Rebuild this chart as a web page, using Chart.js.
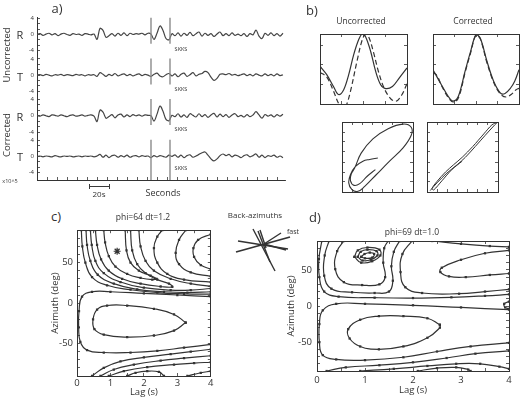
<!DOCTYPE html>
<html>
<head>
<meta charset="utf-8">
<script src="https://cdn.jsdelivr.net/npm/chart.js@4.4.0/dist/chart.umd.min.js"></script>
<style>
    html, body { margin: 0; padding: 0; background: #fff; }
    #figure { position: relative; width: 520px; height: 398px; overflow: hidden; font-family: "Open Sans", sans-serif; color: #333; }
    #figure canvas { position: absolute; }
    .lbl { position: absolute; white-space: nowrap; line-height: 1; transform: translate(-50%, -50%); }
    .rot { transform: translate(-50%, -50%) rotate(-90deg); }
    .bar { position: absolute; background: #3a3a3a; }
</style>
</head>
<body>
<div id="figure"></div>
<script>
(function () {
    // ---- a) seismograms, sampled every 3 s ----
    const traceTimes = [0, 3, 6, 9, 12, 15, 18, 21, 24, 27, 30, 33, 36, 39, 42, 45, 48, 51, 54, 57,
        60, 63, 66, 69, 72, 75, 78, 81, 84, 87, 90, 93, 96, 99, 102, 105, 108, 111, 114, 117,
        120, 123, 126, 129, 132, 135, 138, 141, 144, 147, 150, 153, 156, 159, 162, 165, 168, 171, 174, 177,
        180, 183, 186, 189, 192, 195, 198, 201, 204, 207, 210, 213, 216, 219, 222, 225, 228, 231, 234, 237,
        240, 243, 246];
    const rUncorrected = [0, 0.2, -0.2, 0.1, 0.3, -0.1, 0.2, -0.3, 0.1, 0.3, 0, -0.2, 0.2, 0, 0.1, -0.2, 0.2, 0.1, -0.1, 0.1,
        -1.2, 1.5, 1.0, -0.7, -0.3, 0.2, -0.4, 0.3, -0.2, 0.4, -0.3, 0.3, 0, 0.2, 0.1, 0.3, -0.1, 0.3, 0.1, -1.2,
        0.3, 2.1, 1.0, -1.0, -1.3, 0.2, -0.3, 0.4, -0.4, 0.3, -0.2, 0.5, -0.3, 0.2, 0.6, -0.4, 0.3, -0.2, 0.2, -0.5,
        0.1, 0.6, -0.3, 0.2, -0.3, 0.4, -0.2, 0.1, -0.3, 0.2, -0.5, 0.2, -0.1, 1.1, -0.4, -1.0, 0.3, -0.2, 0.4, -0.3,
        0.2, -0.4, 0.3];
    const tUncorrected = [0, 0.1, -0.1, 0.2, 0, -0.2, 0.1, 0, 0.2, -0.1, 0.1, 0, -0.1, 0.2, 0, 0.1, -0.2, 0.1, 0, 0.1,
        -0.3, 0.6, 0.2, -0.3, 0.2, -0.1, 0.4, -0.2, 0.1, 0.3, -0.1, 0.2, -0.2, 0.1, 0.3, -0.1, 0.2, 0, -0.3, 0.2,
        0.5, -0.2, -0.4, 0.1, 0.4, -0.2, 0.3, -0.4, 0.2, 0.5, -0.3, 0.1, 0.6, -0.2, 0.2, 0.4, 0.9, 0.6, -0.5, -1.3,
        -0.8, 0.2, 0.3, 0.1, 0.4, 0, 0.2, -0.1, 0.1, 0.3, -0.1, 0.2, -0.2, 0.3, 0, -0.2, 0.3, -0.1, 0.2, -0.2,
        0.3, -0.1, 0.1];
    const rCorrected = [0.1, -0.1, 0.2, 0, -0.2, 0.2, 0.1, -0.1, 0.2, 0, -0.2, 0.1, 0.2, -0.1, 0, 0.2, -0.1, 0.1, 0.2, -0.1,
        -1.4, 1.4, 0.9, -0.6, -0.2, 0.3, -0.5, 0.2, 0.4, -0.3, 0.2, -0.2, 0.3, 0, 0.2, -0.1, 0.2, 0.1, 0, -1.3,
        0.4, 2.4, 1.1, -0.9, -1.2, 0.1, -0.2, 0.5, -0.3, 0.2, -0.4, 0.5, 0.1, -0.3, 0.5, -0.2, 0.3, -0.4, 0.2, 0.6,
        -0.3, 0.4, -0.2, 0.3, -0.4, 0.2, 0.5, -0.2, 0.1, -0.3, 0.3, -0.2, 0.2, 1.0, 0.2, -0.6, 0.3, -0.1, 0.2, -0.3,
        0.3, -0.1, 0.4];
    const tCorrected = [0, 0.1, -0.1, 0.1, 0, -0.1, 0.2, 0, -0.1, 0.1, 0, 0.1, -0.1, 0, 0.1, -0.1, 0.1, 0, 0.1, -0.1,
        0.1, 0.5, -0.2, 0.3, -0.3, 0.2, 0.3, -0.2, 0.2, -0.1, 0.3, -0.2, 0.1, 0.2, -0.1, 0.2, 0, 0.1, -0.3, 0.2,
        -0.1, 0.2, 0, -0.2, 0.3, 0, 0.4, -0.2, 0.3, -0.3, 0.2, 0.4, -0.2, 0.1, 0.5, 0.9, 1.1, 0.3, -0.6, -1.1,
        -0.6, 0.2, 0.6, 0.2, 0.5, -0.1, 0.3, 0.1, -0.3, 0.2, 0.4, -0.1, 0.2, 0.6, -0.2, 0.3, -0.3, 0.2, 0, 0.3,
        -0.2, 0.1, -0.3];
    const skksWindow = [114, 133];
    const rowOffsets = [0, -10, -20, -30];

    // ---- b) waveforms and particle motion ----
    const uncorrectedFast = [[0, 0.08], [0.31, -0.16], [0.62, -0.5], [0.85, -0.73], [1.09, -0.59], [1.32, -0.16], [1.55, 0.41],
        [1.78, 0.84], [1.94, 1.0], [2.09, 0.93], [2.33, 0.5], [2.56, -0.07], [2.79, -0.45], [3.02, -0.56], [3.33, -0.5], [3.64, -0.26], [4.0, 0.03]];
    const uncorrectedSlow = [[0, -0.1], [0.3, -0.22], [0.6, -0.6], [0.85, -0.98], [1.05, -1.15], [1.2, -1.05], [1.4, -0.64],
        [1.7, 0.22], [1.95, 0.85], [2.1, 0.99], [2.25, 0.9], [2.45, 0.5], [2.7, -0.1], [2.95, -0.55], [3.25, -0.85], [3.5, -0.92], [3.75, -0.75], [4.0, -0.42]];
    const correctedFast = [[0, -0.02], [0.39, -0.45], [0.75, -0.82], [0.94, -0.92], [1.18, -0.78], [1.49, -0.07], [1.73, 0.46],
        [2.0, 0.98], [2.2, 0.88], [2.51, 0.22], [2.82, -0.35], [3.14, -0.69], [3.35, -0.7], [3.6, -0.55], [3.8, -0.35], [4, -0.02]];
    const correctedSlow = [[0, -0.1], [0.2, -0.2], [0.39, -0.47], [0.75, -0.85], [0.98, -0.95], [1.2, -0.8], [1.5, -0.08],
        [1.75, 0.46], [2.0, 0.97], [2.2, 0.86], [2.5, 0.2], [2.82, -0.38], [3.14, -0.72], [3.4, -0.8], [3.65, -0.72], [3.85, -0.6], [4, -0.55]];
    const motionUncorrected = [[-0.06, -0.36], [-0.29, -0.55], [-0.5, -0.76], [-0.66, -0.81], [-0.76, -0.68], [-0.74, -0.49],
        [-0.64, -0.31], [-0.46, 0.11], [-0.13, 0.52], [0.3, 0.81], [0.72, 0.94], [0.95, 0.85], [0.95, 0.62], [0.72, 0.26],
        [0.34, -0.12], [-0.03, -0.5], [-0.36, -0.84], [-0.55, -0.98], [-0.72, -0.93], [-0.81, -0.74], [-0.76, -0.5],
        [-0.62, -0.27], [-0.41, -0.12], [-0.22, -0.07], [0.01, -0.03]];
    const motionCorrected = [[-0.91, -0.96], [-0.72, -0.74], [-0.44, -0.46], [-0.15, -0.22], [0.08, -0.01], [0.36, 0.3],
        [0.64, 0.62], [0.91, 0.92], [0.97, 0.98], [0.83, 0.92], [0.6, 0.66], [0.29, 0.3], [-0.01, -0.01], [-0.25, -0.22],
        [-0.48, -0.43], [-0.72, -0.7], [-0.86, -0.9], [-0.81, -0.94], [-0.58, -0.68], [-0.3, -0.36], [-0.01, -0.12]];

    // ---- back-azimuths (offsets from centre, y up) ----
    const backAzimuths = [
        [[-11, 15], [11, -27]],
        [[-26, 3], [24, -5]],
        [[-4, 14], [2, -4]],
        [[0, 0], [17, 11]],
        [[0, 0], [22, -6]],
        [[-6, 13], [6, -18]]
    ];
    const fastDirection = [[-28, -8], [26, 7]];

    // ---- c) energy contours, phi=64 dt=1.2 (lag s, azimuth deg) ----
    const cMinimum = [[1.2, 64]];
    const cTongueInner = [[0.8, 90], [0.84, 75], [0.95, 58], [1.15, 45], [1.5, 36], [1.9, 31], [2.25, 29], [2.38, 30], [2.2, 34], [1.85, 40], [1.6, 50], [1.48, 65], [1.44, 90]];
    const cTongueOuter = [[0.55, 90], [0.6, 72], [0.72, 54], [0.95, 40], [1.35, 30], [1.9, 24], [2.5, 20.5], [2.85, 20], [2.75, 24], [2.4, 29], [2.05, 37], [1.8, 48], [1.65, 65], [1.6, 90]];
    const cBandTop1 = [[0.4, 90], [0.44, 72], [0.55, 52], [0.8, 37], [1.3, 26], [2, 19], [2.8, 16], [3.4, 16], [4, 18]];
    const cBandTop2 = [[0.27, 90], [0.3, 72], [0.4, 52], [0.62, 35], [1.1, 24], [1.8, 17], [2.6, 14], [3.3, 13], [4, 14]];
    const cBandTop3 = [[0.13, 90], [0.16, 70], [0.25, 50], [0.45, 32], [0.9, 22], [1.6, 16.5], [2.4, 13], [3.2, 11.5], [4, 11]];
    const cSaddle = [[1.85, 90], [1.9, 70], [2.05, 52], [2.3, 40], [2.8, 30], [3.4, 24], [4, 21]];
    const cRightInner = [[4, 42], [3.7, 47], [3.5, 57], [3.48, 68], [3.62, 78], [4, 85]];
    const cRightMid = [[4, 33], [3.4, 38], [3.05, 48], [2.95, 62], [3.05, 78], [3.25, 90]];
    const cRightOuter = [[4, 26], [3.2, 29], [2.7, 36], [2.4, 50], [2.3, 68], [2.4, 82], [2.55, 90]];
    const cMidOuter = [[4, 8], [3, 10], [2, 12], [1, 14], [0.45, 14], [0.15, 8], [0.06, -10], [0.05, -30], [0.1, -48], [0.3, -58], [0.8, -61], [1.6, -61], [2.4, -59], [3.2, -55], [4, -51]];
    const cMidInner = [[3.25, -24], [2.9, -14], [2.3, -7], [1.5, -3], [0.9, -3], [0.6, -8], [0.48, -20], [0.52, -32], [0.8, -39], [1.5, -42], [2.3, -40], [2.9, -34], [3.25, -24]];
    const cBottom1 = [[0.45, -90], [0.8, -80], [1.3, -72], [2, -67], [2.8, -63], [3.4, -60], [4, -57]];
    const cBottom2 = [[0.7, -90], [1.1, -82], [1.7, -76], [2.5, -71], [3.2, -68], [4, -65]];
    const cBottom3 = [[0.95, -90], [1.4, -84], [2.1, -79], [2.9, -76], [3.5, -74], [4, -73]];
    const cBottomTongue = [[1.5, -90], [1.75, -86], [2.1, -84], [2.45, -85], [2.6, -90]];
    const cBottomRight = [[3.3, -90], [3.7, -86], [4, -84]];

    // ---- d) energy contours, phi=69 dt=1.0 ----
    const dLoop1 = [[0.78, 68], [0.85, 77], [1.05, 81], [1.3, 78], [1.32, 70], [1.15, 62], [0.92, 60], [0.78, 68]];
    const dLoop2 = [[0.85, 68], [0.91, 75], [1.05, 78], [1.24, 76], [1.26, 70], [1.12, 64], [0.95, 63], [0.85, 68]];
    const dLoop3 = [[0.92, 68], [0.99, 72], [1.1, 74], [1.19, 72], [1.15, 67], [1.0, 66], [0.92, 68]];
    const dUpperInner = [[0.56, 90], [0.42, 76], [0.38, 51], [0.56, 33], [0.94, 29], [1.3, 30], [1.42, 40], [1.38, 60], [1.4, 80], [1.48, 90]];
    const dUpperMid = [[0.25, 90], [0.16, 70], [0.15, 42], [0.3, 24], [0.73, 19], [1.2, 18], [1.5, 20], [1.58, 35], [1.55, 55], [1.6, 75], [1.72, 90]];
    const dUpperOuter = [[0.1, 90], [0.04, 65], [0.05, 40], [0.15, 20], [0.45, 13], [1.2, 11.5], [2, 11], [2.8, 12], [3.5, 14], [4, 16]];
    const dSaddle = [[1.98, 90], [1.78, 72], [1.74, 47], [1.84, 26], [2.19, 18], [2.96, 17], [3.5, 20], [4, 23]];
    const dTongue = [[4, 77], [3.5, 73], [3, 64], [2.6, 53], [2.57, 47], [2.75, 41], [3.1, 40], [3.6, 43], [4, 45]];
    const dTopRight = [[2.4, 90], [3, 86], [3.6, 83], [4, 82]];
    const dEdgeLoop = [[4, 6], [3.9, 3], [3.92, -2], [4, -4]];
    const dLowerOuter = [[4, -5], [3, -2], [2, 1], [1, 3], [0.4, 3], [0.12, -6], [0.05, -25], [0.05, -50], [0.12, -68], [0.4, -74], [1, -75], [1.8, -71], [2.5, -63], [3.2, -56], [4, -51]];
    const dLowerInner = [[2.56, -26], [2.3, -17], [1.8, -14], [1.29, -14], [0.9, -19], [0.65, -32], [0.68, -45], [0.9, -56], [1.29, -60], [1.8, -56], [2.3, -44], [2.56, -30], [2.56, -26]];
    const dBottom1 = [[0.2, -90], [0.6, -85], [1.3, -82], [2, -78], [2.7, -72], [3.3, -66], [4, -62]];
    const dBottom2 = [[0.9, -90], [1.6, -87], [2.3, -83], [2.9, -80], [3.4, -80], [3.8, -84], [4, -87]];
    const dBottomTongue = [[2.1, -90], [2.5, -86], [2.9, -85], [3.15, -88], [3.2, -90]];

    // ---- tick positions ----
    const lagTicks = [0, 0.5, 1, 1.5, 2, 2.5, 3, 3.5, 4];
    const azimuthTicks = [-90, -80, -70, -60, -50, -40, -30, -20, -10, 0, 10, 20, 30, 40, 50, 60, 70, 80, 90];
    const waveTicksX = [0, 1, 2, 3, 4];
    const waveTicksY = [-1, -0.44, 0.12, 0.68];
    const motionTicks = [-1, -0.714, -0.429, -0.143, 0.143, 0.429, 0.714, 1];

    const ink = "#333";
    Chart.defaults.font.family = "'Open Sans', sans-serif";
    Chart.defaults.color = ink;

    const fig = document.getElementById("figure");

    function addCanvas(left, top, width, height) {
        const c = document.createElement("canvas");
        c.width = width;
        c.height = height;
        c.style.left = left + "px";
        c.style.top = top + "px";
        c.style.width = width + "px";
        c.style.height = height + "px";
        fig.appendChild(c);
        return c;
    }

    function addText(text, x, y, size, rotated) {
        const el = document.createElement("div");
        el.className = rotated ? "lbl rot" : "lbl";
        el.textContent = text;
        el.style.left = x + "px";
        el.style.top = y + "px";
        el.style.fontSize = size + "px";
        fig.appendChild(el);
    }

    function frameAxis(o) {
        const vertical = o.position === "left" || o.position === "right";
        const cfg = {
            type: "linear",
            axis: vertical ? "y" : "x",
            position: o.position,
            min: o.min,
            max: o.max,
            afterBuildTicks: function (s) {
                s.ticks = o.ticks.map((v) => ({ value: v }));
            },
            afterFit: function (s) {
                if (vertical) {
                    s.width = o.size || 0;
                    s.paddingTop = 0;
                    s.paddingBottom = 0;
                } else {
                    s.height = o.size || 0;
                    s.paddingLeft = 0;
                    s.paddingRight = 0;
                }
            },
            border: { display: true, color: ink, width: 1 },
            grid: { drawOnChartArea: false, drawTicks: true, tickLength: -3, color: ink, lineWidth: 0.8 },
            ticks: {
                display: !!o.labels,
                autoSkip: false,
                maxRotation: 0,
                minRotation: 0,
                padding: o.padding || 6,
                color: ink,
                font: { size: o.fontSize || 9.5 },
            },
            title: { display: !!o.title, text: o.title || "", color: ink, padding: 0, font: { size: 9.5 } },
        };
        if (o.labels) {
            cfg.ticks.callback = o.labels;
        }
        return cfg;
    }

    function lineSet(points, opts) {
        return Object.assign(
            {
                data: points.map((p) => ({ x: p[0], y: p[1] })),
                showLine: true,
                borderColor: ink,
                borderWidth: 1.1,
                pointRadius: 0,
                tension: 0.35,
                fill: false,
            },
            opts || {}
        );
    }

    function contour(points) {
        return lineSet(points, {
            tension: 0.45,
            borderWidth: 1.2,
            pointRadius: 1.6,
            pointStyle: "rect",
            pointBackgroundColor: ink,
            pointBorderWidth: 0,
        });
    }

    function makeChart(box, scales, datasets, padding) {
        const canvas = addCanvas(box[0], box[1], box[2], box[3]);
        return new Chart(canvas.getContext("2d"), {
            type: "scatter",
            data: { datasets: datasets },
            options: {
                responsive: false,
                animation: false,
                devicePixelRatio: 1,
                layout: { padding: padding || 0 },
                plugins: { legend: { display: false }, tooltip: { enabled: false }, title: { display: false } },
                scales: scales,
            },
        });
    }

    function boxScales(xMin, xMax, xTicks, yMin, yMax, yTicks) {
        return {
            x: frameAxis({ position: "bottom", min: xMin, max: xMax, ticks: xTicks }),
            y: frameAxis({ position: "left", min: yMin, max: yMax, ticks: yTicks }),
            xTop: frameAxis({ position: "top", min: xMin, max: xMax, ticks: xTicks }),
            yRight: frameAxis({ position: "right", min: yMin, max: yMax, ticks: yTicks }),
        };
    }

    // ---------- panel a ----------
    const timeTicks = [];
    for (let t = 0; t <= 240; t += 10) {
        timeTicks.push(t);
    }
    const ampTicks = [];
    const ampLabels = {};
    rowOffsets.forEach((o) => {
        [-3, -2, -1, 0, 1, 2, 3].forEach((k) => ampTicks.push(o + (k * 4) / 3));
        ampLabels[Math.round((o + 4) * 100)] = "4";
        ampLabels[Math.round(o * 100)] = "0";
        ampLabels[Math.round((o - 4) * 100)] = "-4";
    });
    ampTicks.sort((a, b) => a - b);

    const traceDatasets = [];
    [rUncorrected, tUncorrected, rCorrected, tCorrected].forEach((values, i) => {
        const o = rowOffsets[i];
        skksWindow.forEach((w) => {
            const bottom = i === rowOffsets.length - 1 ? -35.8 : o - 2.3;
            traceDatasets.push(lineSet([[w, o + 4.1], [w, bottom]], { borderColor: "#8c8c8c", borderWidth: 1.4, tension: 0 }));
        });
        traceDatasets.push(lineSet(traceTimes.map((t, j) => [t, values[j] + o]), { borderColor: "#444", borderWidth: 1.2, tension: 0.35 }));
    });

    makeChart(
        [0, 10, 290, 180],
        {
            x: frameAxis({ position: "bottom", min: 0, max: 248, ticks: timeTicks, size: 10 }),
            y: frameAxis({
                position: "left",
                min: -35.8,
                max: 4.3,
                ticks: ampTicks,
                size: 37,
                fontSize: 6,
                padding: 6,
                labels: (v) => ampLabels[Math.round(v * 100)] || "",
            }),
        },
        traceDatasets,
        { top: 7, right: 5, left: 0, bottom: 0 }
    );

    // ---------- panel b ----------
    makeChart([319, 33, 89, 72], boxScales(0, 4, waveTicksX, -1, 1, waveTicksY), [
        lineSet(uncorrectedFast, { borderWidth: 1.2 }),
        lineSet(uncorrectedSlow, { borderWidth: 1.2, borderDash: [5, 3] }),
    ], 1);
    makeChart([432, 33, 88, 72], boxScales(0, 4, waveTicksX, -1, 1, waveTicksY), [
        lineSet(correctedFast, { borderWidth: 1.2 }),
        lineSet(correctedSlow, { borderWidth: 1.2, borderDash: [5, 3] }),
    ], 1);
    makeChart([341, 121, 73, 72], boxScales(-1, 1, motionTicks, -1, 1, motionTicks), [
        lineSet(motionUncorrected, { borderWidth: 1.1, tension: 0.4 }),
    ], 1);
    makeChart([426, 121, 73, 72], boxScales(-1, 1, motionTicks, -1, 1, motionTicks), [
        lineSet(motionCorrected, { borderWidth: 1.0, tension: 0.3 }),
    ], 1);

    // ---------- back-azimuth rose ----------
    const roseSets = backAzimuths.map((seg) => lineSet(seg, { borderWidth: 1.4, tension: 0 }));
    roseSets.push(lineSet(fastDirection, { borderWidth: 1.8, tension: 0 }));
    makeChart(
        [228, 214, 72, 60],
        {
            x: { type: "linear", min: -36, max: 36, display: false },
            y: { type: "linear", min: -30, max: 30, display: false },
        },
        roseSets,
        0
    );

    // ---------- panels c and d ----------
    const azLabel = (v) => (v === 50 || v === 0 || v === -50 ? String(v) : "");
    const lagLabel = (v) => (Number.isInteger(v) ? String(v) : "");

    function contourScales(yWidth, xHeight, yPad, xPad) {
        return {
            x: frameAxis({ position: "bottom", min: 0, max: 4, ticks: lagTicks, size: xHeight, labels: lagLabel, padding: xPad, title: "Lag (s)" }),
            y: frameAxis({ position: "left", min: -90, max: 90, ticks: azimuthTicks, size: yWidth, labels: azLabel, padding: yPad, title: "Azimuth (deg)" }),
            xTop: frameAxis({ position: "top", min: 0, max: 4, ticks: lagTicks }),
            yRight: frameAxis({ position: "right", min: -90, max: 90, ticks: azimuthTicks }),
        };
    }

    const cSets = [cTongueInner, cTongueOuter, cBandTop1, cBandTop2, cBandTop3, cSaddle, cRightInner, cRightMid, cRightOuter,
        cMidOuter, cMidInner, cBottom1, cBottom2, cBottom3, cBottomTongue, cBottomRight].map(contour);
    cSets.push(lineSet(cMinimum, { showLine: false, pointRadius: 3.5, pointStyle: "star", pointBorderColor: ink, pointBorderWidth: 1.2 }));
    makeChart([50, 225, 166, 173], contourScales(27, 22, 7, 5), cSets, { top: 2, right: 5, left: 0, bottom: 0 });

    const dSets = [dLoop1, dLoop2, dLoop3, dUpperInner, dUpperMid, dUpperOuter, dSaddle, dTongue, dTopRight, dEdgeLoop,
        dLowerOuter, dLowerInner, dBottom1, dBottom2, dBottomTongue].map(contour);
    makeChart([286, 237, 228, 159], contourScales(31, 25, 8, 7), dSets, { top: 2, right: 5, left: 0, bottom: 0 });

    // ---------- text ----------
    addText("a)", 57, 8, 13);
    addText("b)", 312, 10, 13);
    addText("c)", 56, 216, 13);
    addText("d)", 315, 217, 13);

    [["R", 34], ["T", 76], ["R", 116], ["T", 156]].forEach((r) => addText(r[0], 20, r[1], 11));
    addText("Uncorrected", 7, 55, 9.5, true);
    addText("Corrected", 7, 135, 9.5, true);
    [50, 90, 130, 169].forEach((y) => addText("SKKS", 181, y, 5.5));
    addText("x10^5", 10, 182, 5.5);
    addText("20s", 99, 194, 8);
    addText("Seconds", 163, 192, 9);

    addText("Uncorrected", 361, 21, 8.5);
    addText("Corrected", 473, 21, 8.5);

    addText("phi=64  dt=1.2", 143, 217, 8.5);
    addText("phi=69  dt=1.0", 412, 232, 8.5);
    addText("Back-azimuths", 255, 215, 8);
    addText("fast", 293, 231, 7);

    // 20 s scale bar
    const bar = document.createElement("div");
    bar.className = "bar";
    bar.style.left = "89px";
    bar.style.top = "186px";
    bar.style.width = "21px";
    bar.style.height = "1px";
    fig.appendChild(bar);
    [89, 109].forEach((x) => {
        const end = document.createElement("div");
        end.className = "bar";
        end.style.left = x + "px";
        end.style.top = "184px";
        end.style.width = "1px";
        end.style.height = "5px";
        fig.appendChild(end);
    });
})();
</script>
</body>
</html>
